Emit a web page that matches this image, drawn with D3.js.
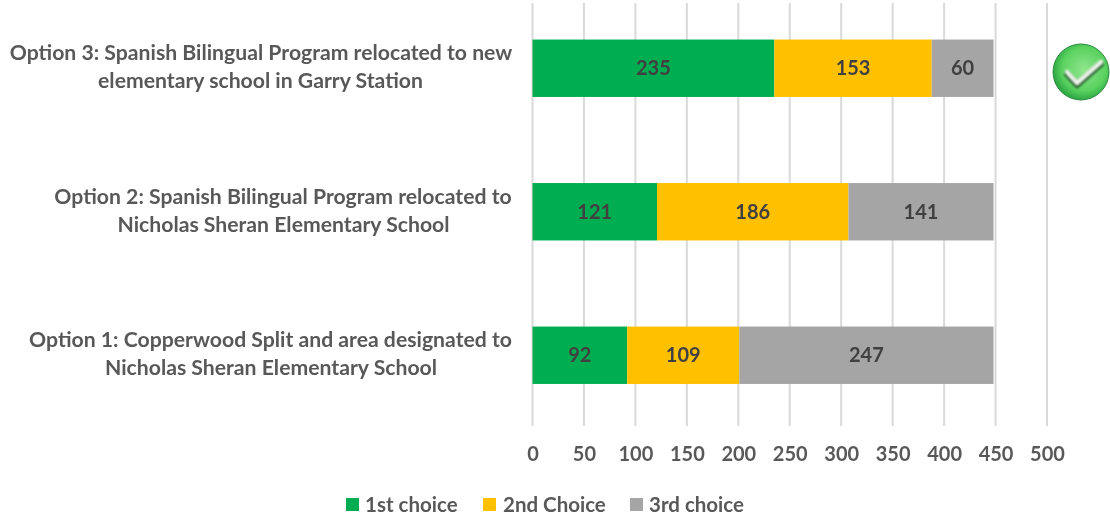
<!DOCTYPE html>
<html><head><meta charset="utf-8">
<script src="https://cdn.jsdelivr.net/npm/d3@7/dist/d3.min.js"></script>
<style>html,body{margin:0;padding:0;background:#fff;overflow:hidden}text{font-family:Lato,sans-serif;font-weight:700}</style>
</head><body><svg id="c" width="1110" height="519"></svg>
<script>
const categories = ["Option 3","Option 2","Option 1"];
const labelLines = [
  ["Option 3: Spanish Bilingual Program relocated to new","elementary school in Garry Station"],
  ["Option 2: Spanish Bilingual Program relocated to","Nicholas Sheran Elementary School"],
  ["Option 1: Copperwood Split and area designated to","Nicholas Sheran Elementary School"]
];
const seriesNames = ["1st choice","2nd Choice","3rd choice"];
const firstChoice = [235,121,92];
const secondChoice = [153,186,109];
const thirdChoice = [60,141,247];
const tickValues = [0,50,100,150,200,250,300,350,400,450,500];
const colors = ["#00ad50","#ffc000","#a5a5a5"];

const svg = d3.select("#c");
const defs=svg.append("defs");
const tb=defs.append("filter").attr("id","tb").attr("x","-5%").attr("y","-20%").attr("width","110%").attr("height","140%");
tb.append("feGaussianBlur").attr("stdDeviation","0.55");
const x = d3.scaleLinear().domain([0,500]).range([532.5,1047]);
const y = d3.scaleBand().domain(categories).range([-3.5,427]).paddingInner(0.6).paddingOuter(0.3);
const rows = categories.map((c,i)=>({c,vals:[firstChoice[i],secondChoice[i],thirdChoice[i]]}));

// gridlines
svg.append("g").selectAll("line").data(tickValues).join("line")
  .attr("x1",d=>x(d)).attr("x2",d=>x(d)).attr("y1",3).attr("y2",426)
  .attr("stroke","#d9d9d9").attr("stroke-width",2);

// bars
const bars = svg.append("g");
const txt = svg.append("g").attr("filter","url(#tb)");
rows.forEach(r=>{
  let cum=0;
  r.vals.forEach((v,j)=>{
    bars.append("rect").attr("x",x(cum)).attr("width",x(cum+v)-x(cum))
      .attr("y",y(r.c)).attr("height",y.bandwidth()).attr("fill",colors[j]);
    txt.append("text").attr("x",x(cum+v/2)).attr("y",y(r.c)+y.bandwidth()/2+7)
      .attr("text-anchor","middle").attr("font-size",20).attr("fill","#404040").text(v);
    cum+=v;
  });
});

// category labels
const centersFirst=[261,283,270.5];
const centersSecond=[260.5,283.5,271];
labelLines.forEach((ls,i)=>{
  const cy=y(categories[i])+y.bandwidth()/2;
  ls.forEach((t,k)=>{
    txt.append("text").attr("x",k?centersSecond[i]:centersFirst[i]).attr("y",cy-8+k*28)
      .attr("text-anchor","middle").attr("font-size",21.2).attr("fill","#595959").text(t);
  });
});

// axis
const axis = d3.axisBottom(x).tickValues(tickValues).tickSize(0).tickPadding(0);
const ag = txt.append("g").attr("transform","translate(0,461)").call(axis);
ag.select(".domain").remove();
ag.selectAll("text").attr("y",0).attr("dy",0).attr("font-size",20).attr("fill","#595959")
  .style("font-family","Lato,sans-serif");

// legend
const legendX=[346,483,630], legendT=[365,503,649];
seriesNames.forEach((n,i)=>{
  svg.append("rect").attr("x",legendX[i]).attr("y",498).attr("width",13).attr("height",13).attr("fill",colors[i]);
  txt.append("text").attr("x",legendT[i]).attr("y",512).attr("font-size",20.5).attr("fill","#595959").text(n);
});

// check badge
const g=defs.append("radialGradient").attr("id","b").attr("cx","0.55").attr("cy","0.45").attr("r","0.6");
g.append("stop").attr("offset","0").attr("stop-color","#8fe58c");
g.append("stop").attr("offset","0.65").attr("stop-color","#5ad260");
g.append("stop").attr("offset","1").attr("stop-color","#1f9a3a");
const f=defs.append("filter").attr("id","s").attr("x","-30%").attr("y","-30%").attr("width","160%").attr("height","160%");
f.append("feGaussianBlur").attr("stdDeviation","0.9");
svg.append("circle").attr("cx",1081).attr("cy",72).attr("r",28).attr("fill","url(#b)").attr("stroke","#2e8b40").attr("stroke-width",1);
const path=d3.path();path.moveTo(1067,72);path.lineTo(1077,83);path.lineTo(1101,62);
svg.append("path").attr("d",path.toString()).attr("fill","none").attr("stroke","#25602f").attr("stroke-width",5.5)
  .attr("stroke-linecap","round").attr("stroke-linejoin","round").attr("transform","translate(0,2.5)").attr("filter","url(#s)");
svg.append("path").attr("d",path.toString()).attr("fill","none").attr("stroke","#eef3ec").attr("stroke-width",4.5)
  .attr("stroke-linecap","round").attr("stroke-linejoin","round").attr("filter","url(#s)");
</script></body></html>
